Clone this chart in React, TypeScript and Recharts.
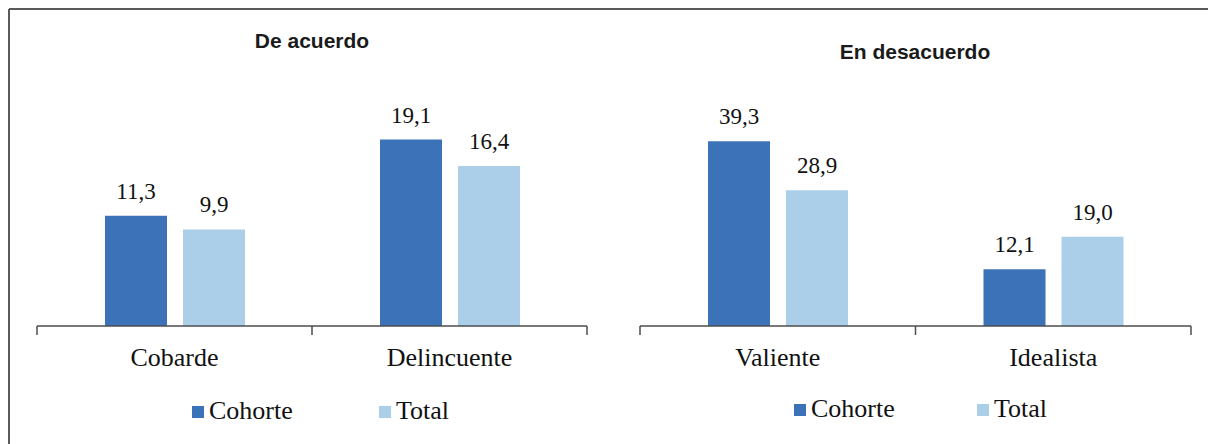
import { BarChart, Bar, XAxis, YAxis, LabelList } from 'recharts';

// "De acuerdo" panel
const acuerdoCategories = ['Cobarde', 'Delincuente'];
const acuerdoCohorte = [11.3, 19.1];
const acuerdoTotal = [9.9, 16.4];

// "En desacuerdo" panel
const desacuerdoCategories = ['Valiente', 'Idealista'];
const desacuerdoCohorte = [39.3, 12.1];
const desacuerdoTotal = [28.9, 19.0];

const seriesNames = ['Cohorte', 'Total'];
const seriesColors = ['#3c73b8', '#abcfe9'];

const SERIF = '"Liberation Serif", "Times New Roman", serif';
const SANS = '"Liberation Sans", Arial, sans-serif';
const AXIS_COLOR = '#4d4d4d';

const fmt = (v: number) => v.toFixed(1).replace('.', ',');

function buildRows(cats: string[], cohorte: number[], total: number[]) {
  return cats.map((name, i) => ({ name, cohorte: cohorte[i], total: total[i] }));
}

// Excel-style category axis: tick marks sit on the category boundaries
function makeTick(band: number, count: number) {
  return (props: any) => {
    const { x, y, payload, index } = props;
    return (
      <g>
        <line x1={x - band / 2} y1={y} x2={x - band / 2} y2={y + 9} stroke={AXIS_COLOR} strokeWidth={1.5} />
        {index === count - 1 && (
          <line x1={x + band / 2} y1={y} x2={x + band / 2} y2={y + 9} stroke={AXIS_COLOR} strokeWidth={1.5} />
        )}
        <text x={x} y={y + 40} textAnchor="middle" fontFamily={SERIF} fontSize={26} fill="#111">
          {payload.value}
        </text>
      </g>
    );
  };
}

interface PanelProps {
  cats: string[];
  cohorte: number[];
  total: number[];
  width: number;
  left: number;
  right: number;
  top: number;
  yMax: number;
}

function Panel({ cats, cohorte, total, width, left, right, top, yMax }: PanelProps) {
  const data = buildRows(cats, cohorte, total);
  const plotWidth = width - left - right;
  const band = plotWidth / cats.length;
  const labelStyle = { fontFamily: SERIF, fontSize: 23, fill: '#111' };
  return (
    <BarChart
      width={width}
      height={444}
      data={data}
      margin={{ top, right, left, bottom: 58 }}
      barSize={62}
      barGap={16}
    >
      <XAxis
        dataKey="name"
        height={60}
        interval={0}
        tickSize={0}
        tickMargin={0}
        tickLine={false}
        axisLine={{ stroke: AXIS_COLOR, strokeWidth: 1.5 }}
        tick={makeTick(band, cats.length)}
      />
      <YAxis hide domain={[0, yMax]} />
      <Bar dataKey="cohorte" fill={seriesColors[0]} isAnimationActive={false}>
        <LabelList dataKey="cohorte" position="top" offset={17} formatter={fmt} style={labelStyle} />
      </Bar>
      <Bar dataKey="total" fill={seriesColors[1]} isAnimationActive={false}>
        <LabelList dataKey="total" position="top" offset={17} formatter={fmt} style={labelStyle} />
      </Bar>
    </BarChart>
  );
}

function LegendRow({ x, y, spacing }: { x: number; y: number; spacing: number }) {
  return (
    <g>
      {seriesNames.map((name, i) => (
        <g key={name}>
          <rect x={x + i * spacing} y={y - 13} width={12} height={12} fill={seriesColors[i]} />
          <text x={x + i * spacing + 17} y={y} fontFamily={SERIF} fontSize={26} fill="#111">
            {name}
          </text>
        </g>
      ))}
    </g>
  );
}

export default function App() {
  return (
    <div style={{ position: 'absolute', left: 0, top: 0, width: 1208, height: 444, background: '#fff' }}>
      <div style={{ position: 'absolute', left: 0, top: 0 }}>
        <Panel
          cats={acuerdoCategories}
          cohorte={acuerdoCohorte}
          total={acuerdoTotal}
          width={600}
          left={37}
          right={13}
          top={82}
          yMax={25}
        />
      </div>
      <div style={{ position: 'absolute', left: 600, top: 0 }}>
        <Panel
          cats={desacuerdoCategories}
          cohorte={desacuerdoCohorte}
          total={desacuerdoTotal}
          width={608}
          left={40}
          right={17}
          top={91}
          yMax={50}
        />
      </div>
      <svg
        width={1208}
        height={444}
        style={{ position: 'absolute', left: 0, top: 0, pointerEvents: 'none' }}
      >
        <line x1={9} y1={9} x2={1208} y2={9} stroke="#5a5a5a" strokeWidth={2} />
        <line x1={9} y1={9} x2={9} y2={444} stroke="#5a5a5a" strokeWidth={2} />
        <text x={312} y={48} textAnchor="middle" fontFamily={SANS} fontWeight="bold" fontSize={21} fill="#1a1a1a">
          De acuerdo
        </text>
        <text x={915} y={59} textAnchor="middle" fontFamily={SANS} fontWeight="bold" fontSize={21} fill="#1a1a1a">
          En desacuerdo
        </text>
        <LegendRow x={192} y={419} spacing={187} />
        <LegendRow x={794} y={417} spacing={183} />
      </svg>
    </div>
  );
}
